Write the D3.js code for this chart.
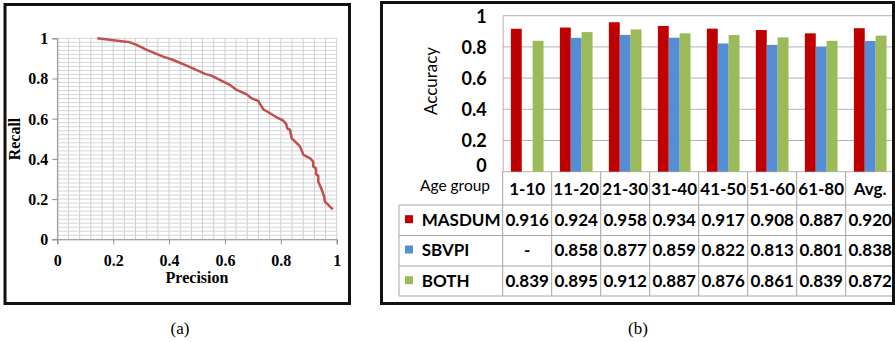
<!DOCTYPE html>
<html>
<head>
<meta charset="utf-8">
<script src="https://cdn.jsdelivr.net/npm/d3@7"></script>
<style>
  html, body { margin: 0; padding: 0; background: #fff; }
  svg { display: block; }
</style>
</head>
<body>
<svg id="fig" width="895" height="342"></svg>
<script>
// ---- (a) precision / recall curve ----
const precision = [0.143, 0.26, 0.284, 0.32, 0.379, 0.415, 0.463, 0.499, 0.529, 0.553,
  0.594, 0.618, 0.642, 0.678, 0.696, 0.720, 0.726, 0.737, 0.761, 0.785,
  0.809, 0.819, 0.823, 0.833, 0.839, 0.857, 0.869, 0.881, 0.905, 0.916,
  0.916, 0.926, 0.926, 0.934, 0.934, 0.946, 0.955, 0.958, 0.970, 0.986];
const recall = [1.0, 0.980, 0.967, 0.942, 0.909, 0.892, 0.864, 0.842, 0.823, 0.813,
  0.784, 0.768, 0.743, 0.721, 0.701, 0.688, 0.673, 0.647, 0.627, 0.607,
  0.590, 0.574, 0.552, 0.544, 0.502, 0.478, 0.461, 0.420, 0.403, 0.386,
  0.362, 0.353, 0.325, 0.315, 0.287, 0.249, 0.212, 0.187, 0.171, 0.149];
const prTicks = [0, 0.2, 0.4, 0.6, 0.8, 1];
const prTickLabels = ["0", "0.2", "0.4", "0.6", "0.8", "1"];

// ---- (b) accuracy by age group ----
const ageGroups = ["1-10", "11-20", "21-30", "31-40", "41-50", "51-60", "61-80", "Avg."];
const seriesNames = ["MASDUM", "SBVPI", "BOTH"];
const masdum = [0.916, 0.924, 0.958, 0.934, 0.917, 0.908, 0.887, 0.920];
const sbvpi  = [null, 0.858, 0.877, 0.859, 0.822, 0.813, 0.801, 0.838];
const both   = [0.839, 0.895, 0.912, 0.887, 0.876, 0.861, 0.839, 0.872];
const accTicks = [0, 0.2, 0.4, 0.6, 0.8, 1];
const accTickLabels = ["0", "0.2", "0.4", "0.6", "0.8", "1"];
const seriesColors = ["#C00000", "#558ED5", "#9BBB59"];

const svg = d3.select("#fig");
svg.append("rect").attr("width", 895).attr("height", 342).attr("fill", "#fff");

// ================= panel (a) =================
const A = svg.append("g");
const serif = "'Liberation Serif', 'Times New Roman', serif";
const xA = d3.scaleLinear().domain([0, 1]).range([57.3, 336.7]);
const yA = d3.scaleLinear().domain([0, 1]).range([239.3, 38.3]);

// fine grid
A.append("g").selectAll("line").data(d3.range(0, 51).map(i => i * 0.02))
  .join("line")
  .attr("x1", xA(0)).attr("x2", xA(1))
  .attr("y1", d => yA(d)).attr("y2", d => yA(d))
  .attr("stroke", "#d6d6d6").attr("stroke-width", 1);
A.append("g").selectAll("line").data(d3.range(0, 26).map(i => i * 0.04))
  .join("line")
  .attr("y1", yA(0)).attr("y2", yA(1))
  .attr("x1", d => xA(d)).attr("x2", d => xA(d))
  .attr("stroke", "#d0d0d0").attr("stroke-width", 1);

// axes
const axA_y = A.append("g").attr("transform", `translate(${xA(0)},0)`)
  .call(d3.axisLeft(yA).tickValues(prTicks).tickFormat((d, i) => prTickLabels[i]).tickSize(5).tickPadding(4));
const axA_x = A.append("g").attr("transform", `translate(0,${yA(0)})`)
  .call(d3.axisBottom(xA).tickValues(prTicks).tickFormat((d, i) => prTickLabels[i]).tickSize(5).tickPadding(10));
[axA_y, axA_x].forEach(g => {
  g.select(".domain").attr("stroke", "#8c8c8c");
  g.selectAll(".tick line").attr("stroke", "#8c8c8c");
  g.selectAll("text").attr("font-family", serif).attr("font-weight", "bold")
    .attr("font-size", 16).attr("fill", "#000");
});
axA_y.selectAll("text").attr("dy", "0.34em");

// curve
A.append("path")
  .datum(precision.map((p, i) => [p, recall[i]]))
  .attr("fill", "none").attr("stroke", "#C0504D").attr("stroke-width", 2.5)
  .attr("stroke-linejoin", "round")
  .attr("d", d3.line().x(d => xA(d[0])).y(d => yA(d[1])));

A.append("text").attr("x", 197).attr("y", 283)
  .attr("text-anchor", "middle").attr("font-family", serif).attr("font-weight", "bold")
  .attr("font-size", 16).text("Precision");
A.append("text").attr("transform", "translate(20,139) rotate(-90)")
  .attr("text-anchor", "middle").attr("font-family", serif).attr("font-weight", "bold")
  .attr("font-size", 16).text("Recall");

A.append("rect").attr("x", 5).attr("y", 4.5).attr("width", 344.5).attr("height", 299)
  .attr("fill", "none").attr("stroke", "#111").attr("stroke-width", 3);

svg.append("text").attr("x", 180).attr("y", 334).attr("text-anchor", "middle")
  .attr("font-family", serif).attr("font-size", 17).text("(a)");

// ================= panel (b) =================
const B = svg.append("g");
const sans = "Lato, 'Open Sans', sans-serif";
const plotLeft = 502.7, bandW = 49;
const xB = d3.scaleBand().domain(ageGroups).range([plotLeft, plotLeft + bandW * ageGroups.length]).padding(0);
const xS = d3.scaleBand().domain(seriesNames).range([0, xB.bandwidth()]).paddingInner(0).paddingOuter(0.75);
const yB = d3.scaleLinear().domain([0, 1]).range([171.7, 15.7]);

const gridColor = "#b3b3b3";
B.append("g").selectAll("line").data(accTicks)
  .join("line")
  .attr("x1", plotLeft).attr("x2", 895)
  .attr("y1", d => yB(d)).attr("y2", d => yB(d))
  .attr("stroke", gridColor).attr("stroke-width", 1);

const axB = B.append("g").attr("transform", `translate(${plotLeft},0)`)
  .call(d3.axisLeft(yB).tickValues(accTicks).tickFormat((d, i) => accTickLabels[i]).tickSize(0).tickPadding(16));
axB.select(".domain").attr("stroke", gridColor);
axB.selectAll("text").attr("font-family", sans).attr("font-weight", "bold")
  .attr("font-size", 18).attr("fill", "#000")
  .attr("dy", d => d === 0 ? "0em" : "0.36em");

B.append("text").attr("transform", "translate(437,81) rotate(-90)")
  .attr("text-anchor", "middle").attr("font-family", sans).attr("font-size", 17)
  .text("Accuracy");

// bars
const seriesData = [masdum, sbvpi, both];
seriesNames.forEach((name, si) => {
  B.append("g").selectAll("rect")
    .data(ageGroups.map((g, i) => ({ g, v: seriesData[si][i] })).filter(d => d.v !== null))
    .join("rect")
    .attr("x", d => xB(d.g) + xS(name))
    .attr("width", xS.bandwidth())
    .attr("y", d => yB(d.v))
    .attr("height", d => yB(0) - yB(d.v))
    .attr("fill", seriesColors[si]);
});

// data table
const tableLeft = 399;
const rowLines = [205, 235.5, 266, 296];
const rowBaselines = [225.7, 256, 286.7];
const lineColor = "#a6a6a6";
B.append("g").selectAll("line").data(rowLines)
  .join("line")
  .attr("x1", tableLeft).attr("x2", 895)
  .attr("y1", d => d).attr("y2", d => d)
  .attr("stroke", lineColor).attr("stroke-width", 1);
B.append("line").attr("x1", tableLeft).attr("x2", tableLeft)
  .attr("y1", rowLines[0]).attr("y2", rowLines[3])
  .attr("stroke", lineColor);
B.append("g").selectAll("line").data(ageGroups)
  .join("line")
  .attr("x1", d => xB(d)).attr("x2", d => xB(d))
  .attr("y1", yB(0)).attr("y2", rowLines[3])
  .attr("stroke", lineColor);

B.append("text").attr("x", 455).attr("y", 191).attr("text-anchor", "middle")
  .attr("font-family", sans).attr("font-size", 15.5).text("Age group");
B.append("g").selectAll("text").data(ageGroups)
  .join("text")
  .attr("x", d => xB(d) + xB.bandwidth() / 2).attr("y", 195)
  .attr("text-anchor", "middle").attr("font-family", sans).attr("font-size", 17)
  .attr("font-weight", "bold")
  .text(d => d);

seriesNames.forEach((name, si) => {
  const by = rowBaselines[si];
  B.append("rect").attr("x", 405).attr("y", by - 10.5).attr("width", 8).attr("height", 8)
    .attr("fill", seriesColors[si]);
  B.append("text").attr("x", 421.7).attr("y", by)
    .attr("font-family", sans).attr("font-size", 17).attr("font-weight", "bold")
    .text(name);
  B.append("g").selectAll("text")
    .data(ageGroups.map((g, i) => ({ g, v: seriesData[si][i] })))
    .join("text")
    .attr("x", d => xB(d.g) + xB.bandwidth() / 2).attr("y", by)
    .attr("text-anchor", "middle").attr("font-family", sans).attr("font-size", 17)
    .attr("font-weight", "bold")
    .text(d => d.v === null ? "-" : d3.format(".3f")(d.v));
});

B.append("rect").attr("x", 381.5).attr("y", 2.5).attr("width", 512).attr("height", 301)
  .attr("fill", "none").attr("stroke", "#111").attr("stroke-width", 3);

svg.append("text").attr("x", 638).attr("y", 334).attr("text-anchor", "middle")
  .attr("font-family", serif).attr("font-size", 17).text("(b)");
</script>
</body>
</html>
